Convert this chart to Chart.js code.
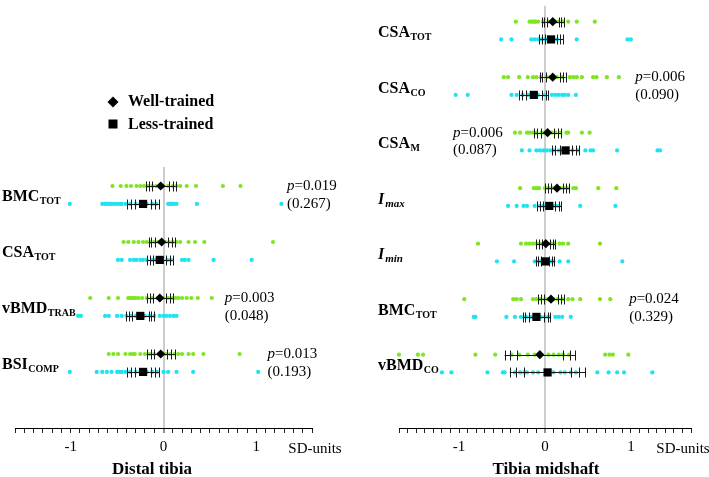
<!DOCTYPE html>
<html><head><meta charset="utf-8">
<script src="https://cdn.jsdelivr.net/npm/chart.js@4.4.1/dist/chart.umd.min.js"></script>
<style>
html,body{margin:0;padding:0;background:#fff;width:709px;height:477px;overflow:hidden;}
canvas{position:absolute;top:0;}
#cL{left:0;} #cR{left:345px;}
</style></head><body>
<canvas id="cL" width="345" height="477"></canvas>
<canvas id="cR" width="364" height="477"></canvas>
<script>
// ---------------- DATA ----------------
const seriesNames = ['Well-trained', 'Less-trained'];
const xTickLabels = ['-1', '0', '1'];
const unitLabel = 'SD-units';

// Distal tibia
const leftTitle = 'Distal tibia';
const leftCats = ['BMC', 'CSA', 'vBMD', 'BSI'];
const leftSubs = ['TOT', 'TOT', 'TRAB', 'COMP'];
const leftWellMean = [-0.03, -0.02, -0.04, -0.03];
const leftWellWhiskers = [[0.09,0.13,0.16],[0.07,0.11,0.14],[0.07,0.11,0.14],[0.07,0.11,0.15]];
const leftLessMean = [-0.22, -0.04, -0.25, -0.22];
const leftLessWhiskers = [[0.09,0.13,0.17],[0.07,0.11,0.14],[0.09,0.12,0.15],[0.09,0.13,0.17]];
const leftWellPoints = [
  [-0.55,-0.46,-0.40,-0.35,-0.29,-0.25,-0.21,-0.17,-0.12,-0.08,0.0,0.05,0.10,0.14,0.18,0.25,0.35,0.64,0.83],
  [-0.43,-0.38,-0.32,-0.27,-0.22,-0.18,-0.14,-0.10,-0.06,0.02,0.06,0.10,0.14,0.18,0.27,0.34,0.44,1.18],
  [-0.79,-0.59,-0.49,-0.38,-0.36,-0.34,-0.32,-0.30,-0.27,-0.23,-0.18,-0.12,-0.06,0.0,0.05,0.10,0.13,0.16,0.20,0.25,0.30,0.37,0.52],
  [-0.59,-0.54,-0.49,-0.41,-0.36,-0.33,-0.31,-0.25,-0.20,-0.15,-0.10,-0.05,0.02,0.07,0.12,0.16,0.20,0.27,0.32,0.43,0.82]
];
const leftLessPoints = [
  [-1.01,-0.66,-0.63,-0.61,-0.58,-0.56,-0.53,-0.50,-0.47,-0.45,-0.41,-0.36,-0.30,-0.25,-0.18,-0.12,-0.08,0.05,0.07,0.09,0.11,0.14,0.36,1.27],
  [-0.49,-0.45,-0.36,-0.32,-0.29,-0.25,-0.22,-0.18,-0.12,-0.08,-0.02,0.04,0.08,0.20,0.23,0.27,0.54,0.95],
  [-0.92,-0.89,-0.63,-0.59,-0.50,-0.45,-0.40,-0.35,-0.30,-0.20,-0.15,-0.10,-0.04,0.0,0.03,0.07,0.11,0.14],
  [-1.01,-0.72,-0.66,-0.61,-0.56,-0.50,-0.47,-0.45,-0.41,-0.36,-0.30,-0.25,-0.18,-0.12,-0.07,0.0,0.05,0.14,0.32,1.02]
];
const leftPValues = ['0.019', null, '0.003', '0.013'];
const leftEffects = ['0.267', null, '0.048', '0.193'];

// Tibia midshaft
const rightTitle = 'Tibia midshaft';
const rightCats = ['CSA', 'CSA', 'CSA', 'I', 'I', 'BMC', 'vBMD'];
const rightSubs = ['TOT', 'CO', 'M', 'max', 'min', 'TOT', 'CO'];
const rightItalic = [false, false, false, true, true, false, false];
const rightWellMean = [0.09, 0.09, 0.03, 0.14, 0.01, 0.07, -0.06];
const rightWellWhiskers = [[0.07,0.10,0.13],[0.08,0.12,0.15],[0.08,0.12,0.16],[0.07,0.11,0.14],[0.05,0.08,0.11],[0.08,0.12,0.15],[0.27,0.35,0.41]];
const rightLessMean = [0.07, -0.13, 0.24, 0.05, 0.0, -0.10, 0.03];
const rightLessWhiskers = [[0.07,0.11,0.14],[0.09,0.14,0.17],[0.07,0.12,0.16],[0.07,0.11,0.14],[0.05,0.08,0.11],[0.09,0.13,0.16],[0.27,0.37,0.44]];
const rightWellPoints = [
  [-0.34,-0.18,-0.16,-0.14,-0.12,-0.11,-0.08,-0.02,0.04,0.12,0.16,0.21,0.27,0.37,0.58],
  [-0.48,-0.43,-0.30,-0.20,-0.14,-0.10,-0.05,0.02,0.06,0.14,0.20,0.29,0.33,0.37,0.43,0.56,0.60,0.72,0.86],
  [-0.35,-0.29,-0.21,-0.18,-0.14,-0.10,-0.04,0.0,0.08,0.12,0.18,0.25,0.27,0.43,0.52],
  [-0.29,-0.13,-0.10,-0.07,0.0,0.04,0.08,0.12,0.18,0.22,0.26,0.33,0.36,0.62,0.83],
  [-0.78,-0.28,-0.22,-0.18,-0.14,-0.10,-0.06,-0.03,0.03,0.07,0.11,0.17,0.21,0.27,0.64],
  [-0.94,-0.37,-0.33,-0.28,-0.14,-0.10,-0.05,0.0,0.04,0.10,0.15,0.20,0.27,0.32,0.41,0.64,0.76],
  [-1.70,-1.48,-1.42,-0.81,-0.58,-0.39,-0.30,-0.20,-0.12,0.04,0.10,0.16,0.21,0.28,0.70,0.75,0.79,0.97]
];
const rightLessPoints = [
  [-0.51,-0.39,-0.16,-0.12,-0.08,-0.04,0.0,0.04,0.10,0.14,0.37,0.96,1.00],
  [-1.04,-0.90,-0.39,-0.33,-0.26,-0.20,-0.16,-0.08,0.0,0.08,0.12,0.16,0.20,0.23,0.27,0.36],
  [-0.27,-0.18,-0.10,-0.06,-0.02,0.02,0.06,0.10,0.16,0.20,0.26,0.32,0.38,0.47,0.53,0.56,0.84,1.31,1.34],
  [-0.43,-0.33,-0.25,-0.21,-0.12,-0.06,-0.02,0.02,0.08,0.12,0.16,0.41,0.82],
  [-0.56,-0.36,-0.12,-0.07,-0.04,0.0,0.04,0.07,0.10,0.17,0.27,0.90],
  [-0.83,-0.81,-0.45,-0.35,-0.28,-0.22,-0.17,-0.12,-0.05,0.0,0.04,0.12,0.16,0.20,0.30],
  [-1.20,-1.09,-0.67,-0.49,-0.47,-0.35,-0.29,-0.24,-0.21,-0.14,-0.08,0.10,0.18,0.23,0.30,0.36,0.61,0.74,0.84,0.92,1.25]
];
const rightPValues = [null, '0.006', '0.006', null, null, '0.024', null];
const rightEffects = [null, '0.090', '0.087', null, null, '0.329', null];

// ---------------- LAYOUT / STYLE ----------------
const FONT = "'Liberation Serif','Times New Roman',serif";
const GREEN = '#7ee620', CYAN = '#1ee3f0';
const ROW_PX = 56, FIRST_ROW_PX = 18, AXIS_PX = 428, LESS_OFFSET = 0.32;

function drawLabel(ctx, x, y, main, sub, italic) {
  ctx.save();
  ctx.fillStyle = '#000';
  ctx.textBaseline = 'alphabetic';
  ctx.textAlign = 'left';
  const st = italic ? 'italic bold ' : 'bold ';
  ctx.font = st + '16px ' + FONT;
  const base = y + 5.5;
  ctx.fillText(main, x, base);
  const w = ctx.measureText(main).width;
  ctx.font = st + (italic ? '11px ' : '10px ') + FONT;
  ctx.fillText(sub, x + w + (italic ? 1 : 0.5), base + 3);
  ctx.restore();
}
function drawP(ctx, x, y1, y2, p, eff) {
  ctx.save();
  ctx.fillStyle = '#000';
  ctx.textBaseline = 'middle';
  ctx.textAlign = 'left';
  ctx.font = 'italic 15px ' + FONT;
  ctx.fillText('p', x, y1);
  const w = ctx.measureText('p').width;
  ctx.font = '15px ' + FONT;
  ctx.fillText('=' + p, x + w, y1);
  ctx.fillText('(' + eff + ')', x, y2);
  ctx.restore();
}

function makePanel(id, cfg) {
  const yMin = (cfg.padTop - FIRST_ROW_PX) / ROW_PX;
  const yMax = (AXIS_PX - FIRST_ROW_PX) / ROW_PX;
  const wellMeans = cfg.wellMean.map((m, i) => ({x: m, y: cfg.rowStart + i}));
  const lessMeans = cfg.lessMean.map((m, i) => ({x: m, y: cfg.rowStart + i + LESS_OFFSET}));
  const wellDots = [], lessDots = [];
  cfg.wellPts.forEach((arr, i) => arr.forEach(v => wellDots.push({x: v, y: cfg.rowStart + i})));
  cfg.lessPts.forEach((arr, i) => arr.forEach(v => lessDots.push({x: v, y: cfg.rowStart + i + LESS_OFFSET})));
  const isZero = c => c.tick && Math.abs(c.tick.value) < 1e-6;

  const plugin = {
    id: 'panel' + id,
    beforeDatasetDraw(chart, args) {
      if (args.index !== 1) return;
      const ctx = chart.ctx, xs = chart.scales.x, ys = chart.scales.y;
      ctx.save();
      ctx.strokeStyle = '#1a1a1a';
      ctx.lineWidth = 1;
      const drawBar = (mean, whisk, yv) => {
        const y = Math.round(ys.getPixelForValue(yv)) + 0.5;
        ctx.beginPath();
        ctx.moveTo(xs.getPixelForValue(mean - whisk[2]), y);
        ctx.lineTo(xs.getPixelForValue(mean + whisk[2]), y);
        whisk.forEach(w => {
          [-1, 1].forEach(s => {
            const x = Math.round(xs.getPixelForValue(mean + s * w)) + 0.5;
            ctx.moveTo(x, y - 5);
            ctx.lineTo(x, y + 5);
          });
        });
        ctx.stroke();
      };
      cfg.wellMean.forEach((m, i) => drawBar(m, cfg.wellWhisk[i], cfg.rowStart + i));
      cfg.lessMean.forEach((m, i) => drawBar(m, cfg.lessWhisk[i], cfg.rowStart + i + LESS_OFFSET));
      ctx.restore();
    },
    afterDraw(chart) {
      const ctx = chart.ctx, xs = chart.scales.x, ys = chart.scales.y;
      // row labels
      cfg.cats.forEach((c, i) => {
        const y = (ys.getPixelForValue(cfg.rowStart + i) + ys.getPixelForValue(cfg.rowStart + i + LESS_OFFSET)) / 2 + 1;
        drawLabel(ctx, cfg.labelX, y, c, cfg.subs[i], cfg.italic ? cfg.italic[i] : false);
      });
      // p-values
      cfg.pVals.forEach((p, i) => {
        if (!p) return;
        drawP(ctx, xs.getPixelForValue(cfg.pX[i]), ys.getPixelForValue(cfg.rowStart + i),
          ys.getPixelForValue(cfg.rowStart + i + LESS_OFFSET), p, cfg.effs[i]);
      });
      ctx.save();
      ctx.fillStyle = '#000';
      ctx.textBaseline = 'middle';
      ctx.textAlign = 'center';
      ctx.font = '15px ' + FONT;
      ctx.fillText(unitLabel, cfg.sdX, 449);
      ctx.font = 'bold 17px ' + FONT;
      ctx.fillText(cfg.title, cfg.titleX, 470);
      ctx.restore();
      if (cfg.legend) {
        ctx.save();
        ctx.fillStyle = '#000';
        const lx = 113;
        // diamond
        ctx.beginPath();
        ctx.moveTo(lx - 5.5, 102); ctx.lineTo(lx, 96.5); ctx.lineTo(lx + 5.5, 102); ctx.lineTo(lx, 107.5);
        ctx.closePath(); ctx.fill();
        ctx.fillRect(lx - 4.5, 119.5, 9, 9);
        ctx.font = 'bold 16px ' + FONT;
        ctx.textBaseline = 'middle';
        ctx.textAlign = 'left';
        ctx.fillText(seriesNames[0], 128, 102);
        ctx.fillText(seriesNames[1], 128, 125);
        ctx.restore();
      }
    }
  };

  return new Chart(document.getElementById(id), {
    type: 'scatter',
    data: {datasets: [
      {label: seriesNames[0], data: wellMeans, pointStyle: 'rectRot', pointRadius: 4.6, backgroundColor: '#000', borderColor: '#000', borderWidth: 0, clip: false},
      {label: seriesNames[1], data: lessMeans, pointStyle: 'rect', pointRadius: 5.8, backgroundColor: '#000', borderColor: '#000', borderWidth: 0, clip: false},
      {label: 'wellPts', data: wellDots, pointStyle: 'circle', pointRadius: 2.1, backgroundColor: GREEN, borderWidth: 0, clip: false},
      {label: 'lessPts', data: lessDots, pointStyle: 'circle', pointRadius: 2.1, backgroundColor: CYAN, borderWidth: 0, clip: false}
    ]},
    options: {
      responsive: false, animation: false, events: [],
      layout: {padding: {left: cfg.padLeft, right: cfg.padRight, top: cfg.padTop, bottom: 0}},
      plugins: {legend: {display: false}, tooltip: {enabled: false}, title: {display: false}},
      scales: {
        x: {
          type: 'linear', min: cfg.xMin, max: cfg.xMax,
          afterFit: s => { s.height = 49; },
          border: {display: true, color: '#000', width: 1},
          grid: {
            drawOnChartArea: true,
            color: c => isZero(c) ? '#cdcdcd' : 'rgba(0,0,0,0)',
            lineWidth: c => isZero(c) ? 2 : 1,
            tickColor: '#222', tickWidth: 1, tickLength: 5
          },
          ticks: {
            stepSize: 0.1, autoSkip: false, maxRotation: 0, minRotation: 0, padding: 5,
            color: '#000', font: {family: FONT, size: 15},
            callback: v => {
              const r = Math.round(v * 10) / 10;
              if (r === -1) return xTickLabels[0];
              if (r === 0) return xTickLabels[1];
              if (r === 1) return xTickLabels[2];
              return '';
            }
          }
        },
        y: {type: 'linear', display: false, reverse: true, min: yMin, max: yMax}
      }
    },
    plugins: [plugin]
  });
}

makePanel('cL', {
  cats: leftCats, subs: leftSubs, rowStart: 3,
  wellMean: leftWellMean, wellWhisk: leftWellWhiskers, lessMean: leftLessMean, lessWhisk: leftLessWhiskers,
  wellPts: leftWellPoints, lessPts: leftLessPoints,
  pVals: leftPValues, effs: leftEffects, pX: [1.33, null, 0.66, 1.12],
  xMin: -1.6, xMax: 1.6, padLeft: 15, padRight: 33, padTop: 167,
  labelX: 2, title: leftTitle, titleX: 152, sdX: 315, legend: true
});
makePanel('cR', {
  cats: rightCats, subs: rightSubs, italic: rightItalic, rowStart: 0,
  wellMean: rightWellMean, wellWhisk: rightWellWhiskers, lessMean: rightLessMean, lessWhisk: rightLessWhiskers,
  wellPts: rightWellPoints, lessPts: rightLessPoints,
  pVals: rightPValues, effs: rightEffects, pX: [null, 1.05, -1.07, null, null, 0.98, null],
  xMin: -1.7, xMax: 1.7, padLeft: 54, padRight: 18, padTop: 2,
  labelX: 33, title: rightTitle, titleX: 201, sdX: 338, legend: false
});
</script>
</body></html>
